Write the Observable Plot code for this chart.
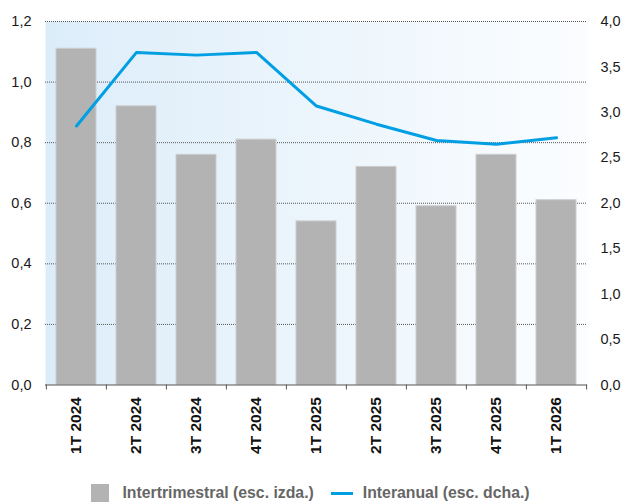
<!DOCTYPE html>
<html><head><meta charset="utf-8">
<script src="https://cdn.jsdelivr.net/npm/d3@7"></script>
<script src="https://cdn.jsdelivr.net/npm/@observablehq/plot@0.6"></script>
<style>
body{margin:0;background:#fff;font-family:"Liberation Sans",Arial,sans-serif}
#legend{display:flex;justify-content:center;align-items:center;height:18px;margin-top:14px;margin-left:-4px;font-weight:bold;font-size:15.8px;color:#666}
#legend .sq{width:18px;height:18px;background:#b3b3b3;margin-right:13px}
#legend .ln{width:22px;height:3px;background:#009fe3;margin-left:17px;margin-right:10px}
</style>
</head><body>
<div id="chart"></div>
<div id="legend"><span class="sq"></span><span>Intertrimestral (esc. izda.)</span><span class="ln"></span><span>Interanual (esc. dcha.)</span></div>
<script>
const quarters = ["1T 2024","2T 2024","3T 2024","4T 2024","1T 2025","2T 2025","3T 2025","4T 2025","1T 2026"];
const intertrimestral = [1.11,0.92,0.76,0.81,0.54,0.72,0.59,0.76,0.61];
const interanual = [2.85,3.66,3.63,3.66,3.07,2.87,2.69,2.65,2.72];
const leftTicks = [0,0.2,0.4,0.6,0.8,1.0,1.2];
const rightTicks = [0,0.5,1.0,1.5,2.0,2.5,3.0,3.5,4.0];

const leftMax = 1.2, rightMax = 4.0;
const ratio = leftMax / rightMax;
const W = 625, H = 470, mL = 45, mR = 38, mT = 21, mB = 85.5;
const step = (W - mL - mR) / quarters.length;
const data = quarters.map((q, i) => ({q, v: intertrimestral[i], r: interanual[i]}));
const fmt = d => d.toFixed(1).replace(".", ",");

const svg = Plot.plot({
  width: W, height: H,
  marginLeft: mL, marginRight: mR, marginTop: mT, marginBottom: mB,
  x: {domain: quarters, padding: 0, label: null},
  y: {domain: [0, leftMax], label: null},
  style: {fontFamily: "'Liberation Sans', Arial, sans-serif", fontSize: "14.5px", color: "#1a1a1a", background: "transparent"},
  marks: [
    Plot.frame({fill: "url(#bgGrad)"}),
    Plot.gridY(leftTicks.filter(t => t > 0), {stroke: "#555", strokeOpacity: 1, strokeDasharray: "1,1"}),
    Plot.barY(data, {x: "q", y: "v", fill: "#b3b3b3", stroke: "#cdcdcd", strokeWidth: 1, insetLeft: 10, insetRight: 10}),
    Plot.lineY(data, {x: "q", y: d => d.r * ratio, stroke: "#009fe3", strokeWidth: 3}),
    Plot.ruleY([0], {stroke: "#555"}),
    Plot.axisY(leftTicks, {anchor: "left", tickSize: 0, tickPadding: 14, tickFormat: fmt}),
    Plot.axisY(rightTicks.map(t => t * ratio), {anchor: "right", tickSize: 0, tickPadding: 13, tickFormat: d => fmt(d / ratio)}),
    Plot.axisX({tickSize: 0, tickPadding: 12, tickRotate: -90, fontWeight: "bold", fontSize: 15.5, fill: "#111"}),
    Plot.axisX(quarters, {tickSize: 5, dx: -step / 2, fill: "none", stroke: "#555"}),
    Plot.axisX([quarters[quarters.length - 1]], {tickSize: 5, dx: step / 2, fill: "none", stroke: "#555"})
  ]
});

const defs = d3.select(svg).insert("defs", ":first-child");
const g = defs.append("linearGradient").attr("id", "bgGrad").attr("x1", "0").attr("x2", "1").attr("y1", "0").attr("y2", "0");
g.append("stop").attr("offset", "0%").attr("stop-color", "#dcedfa");
g.append("stop").attr("offset", "50%").attr("stop-color", "#ecf5fc");
g.append("stop").attr("offset", "100%").attr("stop-color", "#fbfdff");

document.getElementById("chart").appendChild(svg);
</script>
</body></html>
